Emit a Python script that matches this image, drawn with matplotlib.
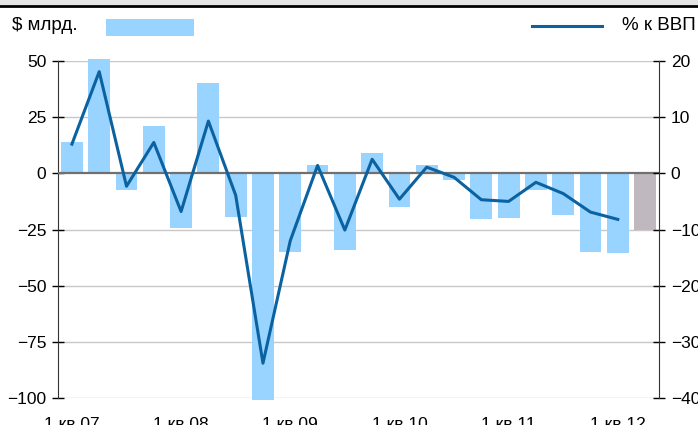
import numpy as np
import matplotlib
matplotlib.use("Agg")
import matplotlib.pyplot as plt
from matplotlib.patches import Rectangle
from matplotlib.lines import Line2D

plt.rcParams['font.family'] = ['Liberation Sans', 'DejaVu Sans']

# quarters Q1'07 .. Q2'12
quarters = ['1 кв 07', '2 кв 07', '3 кв 07', '4 кв 07',
            '1 кв 08', '2 кв 08', '3 кв 08', '4 кв 08',
            '1 кв 09', '2 кв 09', '3 кв 09', '4 кв 09',
            '1 кв 10', '2 кв 10', '3 кв 10', '4 кв 10',
            '1 кв 11', '2 кв 11', '3 кв 11', '4 кв 11',
            '1 кв 12', '2 кв 12']
# $ bln (left axis)
usd_bln = [14, 51, -7.5, 21, -24.5, 40, -19.6, -101,
           -35, 3.6, -34, 9, -15, 3.6, -3, -20.5,
           -20, -7.5, -18.7, -35, -35.6, -25]
# last quarter is a forecast (gray bar)
forecast = [False] * 21 + [True]
# % of GDP (right axis), no value for last quarter
pct_gdp = [5.2, 18.1, -2.3, 5.5, -6.8, 9.3, -3.9, -33.8,
           -12, 1.4, -10.1, 2.5, -4.6, 1.1, -0.7, -4.7,
           -5.0, -1.6, -3.6, -6.9, -8.2]
tick_labels = ['1 кв 07', '1 кв 08', '1 кв 09', '1 кв 10', '1 кв 11', '1 кв 12']

bar_col = '#99d3ff'
fc_col = '#bfb8be'
line_col = '#0a62a0'

fig = plt.figure(figsize=(6.98, 4.25), dpi=100)
ax = fig.add_axes([0.0831, 0.0635, 0.861, 0.793])
ax2 = ax.twinx()

x = np.arange(len(quarters))
colors = [fc_col if f else bar_col for f in forecast]
bars = ax.bar(x, usd_bln, width=0.8, color=colors, zorder=2)
for b in bars:
    b.set_clip_on(False)

ax.set_ylim(-100, 50)
ax.set_yticks([50, 25, 0, -25, -50, -75, -100])
ax.set_xlim(-0.51, len(quarters) - 0.49)
for v in [50, 25, -25, -50, -75, -100]:
    ax.axhline(v, color='#c8c8c8', lw=1, zorder=1)
ax.axhline(0, color='#707070', lw=1.6, zorder=3)

ax2.plot(x[:len(pct_gdp)], pct_gdp, color=line_col, lw=2.2, zorder=4)
ax2.set_ylim(-40, 20)
ax2.set_yticks([20, 10, 0, -10, -20, -30, -40])

ax.set_xticks(x[::4])
ax.set_xticklabels(tick_labels)

for a in (ax, ax2):
    for s in ['top', 'bottom']:
        a.spines[s].set_visible(False)
    a.tick_params(axis='both', labelsize=12.5, colors='black')
ax.spines['right'].set_visible(False)
ax.spines['left'].set_color('#333333')
ax2.spines['left'].set_visible(False)
ax2.spines['right'].set_color('#333333')
ax.tick_params(axis='y', direction='inout', length=9, width=1, pad=4)
ax2.tick_params(axis='y', direction='inout', length=9, width=1, pad=4)
# x labels sit partly below the picture edge, as in the source
ax.tick_params(axis='x', length=0, pad=14)
ax.set_zorder(ax2.get_zorder() - 1)
ax2.patch.set_visible(False)

# top band and rule
fig.add_artist(Rectangle((0, 1 - 5 / 425), 1, 5 / 425, transform=fig.transFigure,
                         color='#e4e4e4', lw=0))
fig.add_artist(Line2D([0, 1], [1 - 6 / 425, 1 - 6 / 425], transform=fig.transFigure,
                      color='black', lw=2))

# legend-like header
fig.text(12 / 698, 1 - 25 / 425, '$ млрд.', fontsize=13.5, va='center', ha='left')
fig.add_artist(Rectangle((106 / 698, 1 - 36 / 425), 88 / 698, 17 / 425,
                         transform=fig.transFigure, color=bar_col, lw=0))
fig.add_artist(Line2D([532 / 698, 602 / 698], [1 - 26 / 425, 1 - 26 / 425],
                      transform=fig.transFigure, color=line_col, lw=2.2))
fig.text(696 / 698, 1 - 25 / 425, '% к ВВП', fontsize=13.5, va='center', ha='right')

fig.savefig('out.png', dpi=100)
